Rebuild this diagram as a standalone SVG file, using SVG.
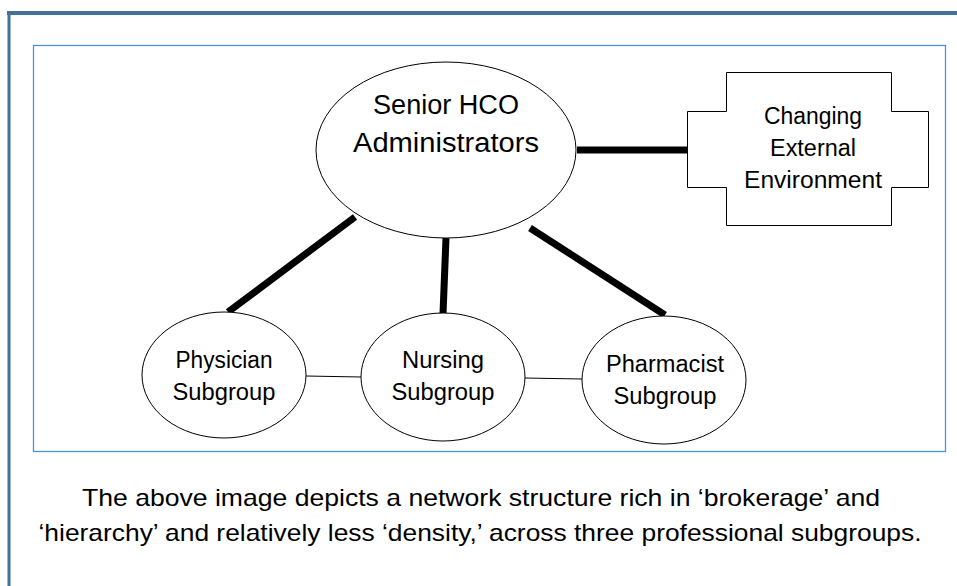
<svg xmlns="http://www.w3.org/2000/svg" width="957" height="586" viewBox="0 0 957 586">
<style>
.t{font-family:"Liberation Sans",Arial,sans-serif;fill:#000;text-anchor:middle}
.node{fill:#fff;stroke:#000;stroke-width:1}
.thick{stroke:#000;stroke-width:7;fill:none}
.thin{stroke:#000;stroke-width:1;fill:none}
</style>
<rect width="957" height="586" fill="#fff"/>
<g id="frame">
<line x1="7" y1="13" x2="957" y2="13" stroke="#41719c" stroke-width="4"/>
<line x1="9" y1="11" x2="9" y2="586" stroke="#41719c" stroke-width="3"/>
<rect x="33.5" y="45.5" width="912" height="406" fill="none" stroke="#4a96dc" stroke-width="1.3"/>
</g>
<g id="connectors">
<line class="thick" x1="577" y1="150" x2="688" y2="150"/>
<line class="thick" x1="355" y1="217" x2="228" y2="312"/>
<line class="thick" x1="446" y1="238" x2="443" y2="314"/>
<line class="thick" x1="530" y1="228" x2="665" y2="315"/>
<line class="thin" x1="306" y1="376" x2="361" y2="377"/>
<line class="thin" x1="525" y1="378" x2="582" y2="379"/>
</g>
<g id="senior">
<ellipse class="node" cx="446" cy="150" rx="130" ry="88"/>
<text class="t" x="446" y="114" font-size="27" textLength="146" lengthAdjust="spacingAndGlyphs">Senior HCO</text>
<text class="t" x="446" y="152" font-size="27" textLength="186" lengthAdjust="spacingAndGlyphs">Administrators</text>
</g>
<g id="environment">
<path class="node" d="M726.5,72.5 H891.5 V111.5 H928.5 V187.5 H891.5 V225.5 H726.5 V187.5 H687.5 V111.5 H726.5 Z"/>
<text class="t" x="813" y="124" font-size="23" textLength="98" lengthAdjust="spacingAndGlyphs">Changing</text>
<text class="t" x="813" y="156" font-size="23" textLength="86" lengthAdjust="spacingAndGlyphs">External</text>
<text class="t" x="813" y="188" font-size="23" textLength="138" lengthAdjust="spacingAndGlyphs">Environment</text>
</g>
<g id="physician">
<ellipse class="node" cx="224" cy="375" rx="82" ry="63"/>
<text class="t" x="224" y="368" font-size="23" textLength="97" lengthAdjust="spacingAndGlyphs">Physician</text>
<text class="t" x="224" y="400" font-size="23" textLength="103" lengthAdjust="spacingAndGlyphs">Subgroup</text>
</g>
<g id="nursing">
<ellipse class="node" cx="443" cy="377" rx="82" ry="64"/>
<text class="t" x="443" y="368" font-size="23" textLength="82" lengthAdjust="spacingAndGlyphs">Nursing</text>
<text class="t" x="443" y="400" font-size="23" textLength="103" lengthAdjust="spacingAndGlyphs">Subgroup</text>
</g>
<g id="pharmacist">
<ellipse class="node" cx="664" cy="380" rx="82" ry="64"/>
<text class="t" x="665" y="372" font-size="23" textLength="118" lengthAdjust="spacingAndGlyphs">Pharmacist</text>
<text class="t" x="665" y="404" font-size="23" textLength="103" lengthAdjust="spacingAndGlyphs">Subgroup</text>
</g>
<g id="caption">
<text class="t" x="481" y="506" font-size="24" textLength="798" lengthAdjust="spacingAndGlyphs">The above image depicts a network structure rich in ‘brokerage’ and</text>
<text class="t" x="480" y="541" font-size="24" textLength="883" lengthAdjust="spacingAndGlyphs">‘hierarchy’ and relatively less ‘density,’ across three professional subgroups.</text>
</g>
</svg>
